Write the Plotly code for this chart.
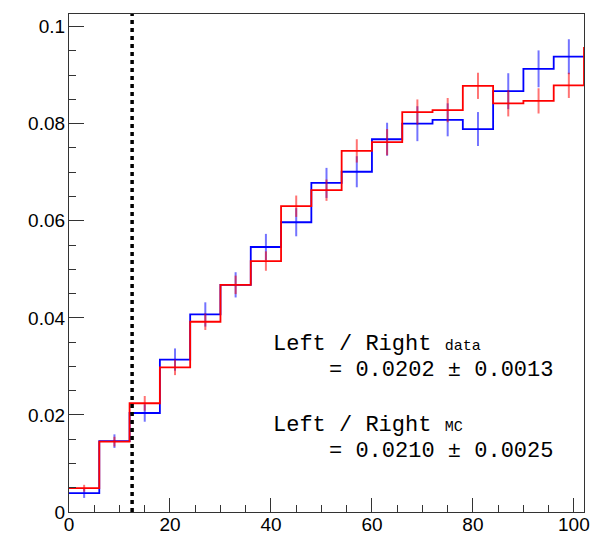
import numpy as np
import plotly.graph_objects as go

# Binning: 17 bins of width 6 spanning 0..102
bin_edges = list(range(0, 103, 6))
bin_centers = [e + 3 for e in bin_edges[:-1]]

# Data (blue) and simulation (red) normalised distributions
data_vals = [0.0039, 0.0146, 0.0204, 0.0314, 0.0407, 0.0468, 0.0546, 0.0597,
             0.0678, 0.0701, 0.0768, 0.0800, 0.0808, 0.0789, 0.0867, 0.0913, 0.0938]
data_errs = [0.0010, 0.0014, 0.0018, 0.0023, 0.0025, 0.0026, 0.0027, 0.0029,
             0.0031, 0.0032, 0.0034, 0.0036, 0.0034, 0.0035, 0.0037, 0.0038, 0.0036]

mc_vals = [0.0049, 0.0145, 0.0224, 0.0298, 0.0392, 0.0468, 0.0517, 0.0630,
           0.0663, 0.0744, 0.0762, 0.0824, 0.0828, 0.0878, 0.0842, 0.0847, 0.0879]
mc_errs = [0.0007, 0.0010, 0.0015, 0.0016, 0.0017, 0.0019, 0.0020, 0.0022,
           0.0022, 0.0024, 0.0027, 0.0026, 0.0025, 0.0027, 0.0027, 0.0026, 0.0026]
# first simulated bin beyond the displayed range
mc_next = 0.0956

x_ticks = [0, 20, 40, 60, 80, 100]
x_tick_labels = ["0", "20", "40", "60", "80", "100"]
y_ticks = [0, 0.02, 0.04, 0.06, 0.08, 0.1]
y_tick_labels = ["0", "0.02", "0.04", "0.06", "0.08", "0.1"]

cut_position = 12.5

ratio_lines = [
    ("Left / Right <span style='font-size:15px'>data</span>", 40.1, 0.0346),
    ("= 0.0202 ± 0.0013", 51.0, 0.0292),
    ("Left / Right <span style='font-size:15px'>MC</span>", 40.1, 0.0178),
    ("= 0.0210 ± 0.0025", 51.0, 0.0124),
]


def step_xy(edges, vals):
    return list(edges), list(vals) + [vals[-1]]


fig = go.Figure()

for vals, errs, color, err_color, extra in [
    (data_vals, data_errs, "#0000ff", "rgba(0,0,255,0.55)", None),
    (mc_vals, mc_errs, "#ff0000", "rgba(255,0,0,0.55)", mc_next),
]:
    edges = bin_edges
    v = vals
    if extra is not None:
        edges = bin_edges + [bin_edges[-1] + 6]
        v = vals + [extra]
    sx, sy = step_xy(edges, v)
    fig.add_trace(go.Scatter(
        x=sx, y=sy, mode="lines", line=dict(color=color, width=1.8, shape="hv"),
        hoverinfo="skip", showlegend=False,
    ))
    fig.add_trace(go.Scatter(
        x=bin_centers, y=vals, mode="markers",
        marker=dict(size=0.1, color=err_color),
        error_y=dict(type="data", array=errs, visible=True,
                     color=err_color, thickness=2, width=0),
        showlegend=False,
    ))

# vertical dotted cut line
fig.add_shape(type="line", x0=cut_position, x1=cut_position, y0=0, y1=1,
              xref="x", yref="paper",
              line=dict(color="black", width=3.5, dash="4px,4px"))

for txt, xv, yv in ratio_lines:
    fig.add_annotation(x=xv, y=yv, xref="x", yref="y", text=txt,
                       showarrow=False, xanchor="left", yanchor="middle",
                       font=dict(family="Liberation Mono, Courier New, monospace",
                                 size=22, color="black"))

axis_common = dict(
    showgrid=False, zeroline=False, showline=True, mirror=True,
    linecolor="#333333", linewidth=1.2, automargin=False,
    ticks="inside", tickcolor="#333333", tickwidth=1,
    tickfont=dict(family="Liberation Sans, Arial, sans-serif", size=19, color="black"),
)

fig.update_xaxes(range=[0, 102], tickvals=x_ticks, ticktext=x_tick_labels,
                 ticklen=14, ticklabelstandoff=-5,
                 minor=dict(dtick=5, tick0=0, ticks="inside", ticklen=7,
                            tickcolor="#333333", tickwidth=1),
                 **axis_common)
fig.update_yaxes(range=[0, 0.1026], tickvals=y_ticks, ticktext=y_tick_labels,
                 ticklen=15, ticklabelstandoff=-1,
                 minor=dict(dtick=0.005, tick0=0, ticks="inside", ticklen=7,
                            tickcolor="#333333", tickwidth=1),
                 **axis_common)

fig.update_layout(
    width=602, height=534,
    margin=dict(l=69, r=18, t=14, b=22, pad=0),
    plot_bgcolor="white", paper_bgcolor="white",
    showlegend=False,
)

fig.write_html("out.html")
